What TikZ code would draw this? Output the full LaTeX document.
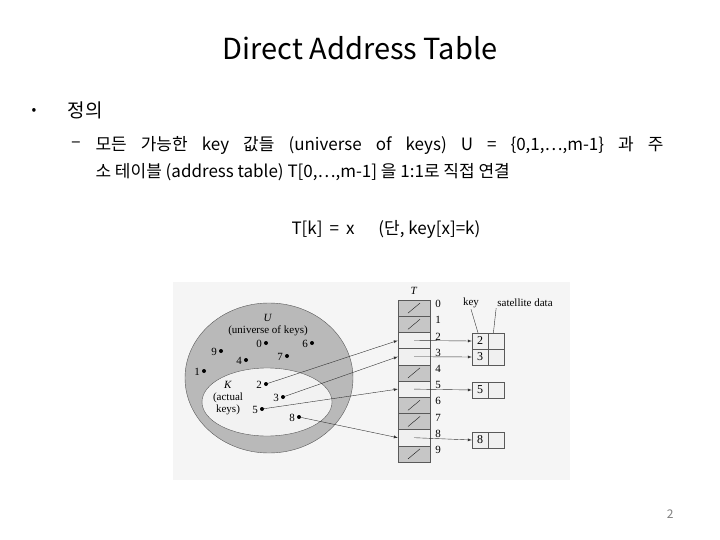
\documentclass[tikz,border=0pt]{standalone}
\usepackage{fontspec}
\setmainfont{Noto Sans CJK KR}
\newfontfamily\figfont{Liberation Serif}
\begin{document}
\begin{tikzpicture}[x=1pt,y=-1pt,
  dotp/.style={circle,fill=black,inner sep=0pt,minimum size=4pt},
  lab/.style={font=\figfont\fontsize{11}{12}\selectfont,inner sep=1pt},
  full/.style={draw=gray!70!black,fill=gray!45,minimum width=32pt,minimum height=16.2pt,inner sep=0pt},
  used/.style={draw=gray!70!black,fill=gray!12,minimum width=32pt,minimum height=16.2pt,inner sep=0pt},
  kbox/.style={draw=gray!70!black,fill=gray!12,minimum width=16pt,minimum height=16pt,inner sep=0pt,font=\figfont\fontsize{12}{13}\selectfont},
  arr/.style={-latex,gray!40!black,thin}]
\useasboundingbox (0,0) rectangle (720,540);
\fill[white] (0,0) rectangle (720,540);
\node (title) at (360,48) {\fontsize{29}{34}\selectfont Direct Address Table};
\node (bul) at (34,111) {\fontsize{14}{16}\selectfont •};
\node[anchor=west] (def) at (64,110) {\fontsize{19}{22}\selectfont 정의};
\node[anchor=west] (dash) at (68,145) {\fontsize{18}{20}\selectfont –};
\node[anchor=west] (l1) at (92,145) {\fontsize{17}{20}\selectfont\makebox[568pt][s]{모든 가능한 key 값들 (universe of keys) U = \{0,1,…,m-1\} 과 주}};
\node[anchor=west] (l2) at (92,172) {\fontsize{17}{20}\selectfont 소 테이블 (address table) T[0,…,m-1] 을 1:1로 직접 연결};
\node[anchor=west] (eq) at (288,229) {\fontsize{17}{20}\selectfont T[k]\hspace{7pt}=\hspace{7pt}x\hspace{24pt}(단, key[x]=k)};
\node[anchor=east] (pg) at (677,514) {\fontsize{12}{14}\selectfont\color{gray}2};
% figure background
\fill[gray!8] (173,282) rectangle (570,480);
\draw[gray!70!black,fill=gray!55] (269,378) ellipse [x radius=84,y radius=75];
\draw[gray!70!black,fill=gray!10] (267,402) ellipse [x radius=65,y radius=34];
\node[lab,align=center] (Ul) at (268,325) {\textit{U}\\(universe of keys)};
\node[lab,align=center] (Kl) at (228,398) {\textit{K}\\(actual\\keys)};
\foreach \n/\x/\y in {0/266/343,9/221/351,4/246/360,7/287/356,6/312/343,1/204/371,2/266/384,3/283/397,5/262/409,8/299/417}{
  \node[dotp] (p\n) at (\x,\y) {};
  \node[lab,anchor=east] at (\x-3,\y+1) {\n};
}
\node[lab] (Tl) at (414,291) {\textit{T}};
\foreach \i in {0,...,9}{
  \pgfmathsetmacro\yy{308.1+16.2*\i}
  \node[lab] at (438,\yy-4) {\i};
}
\foreach \i in {0,1,4,6,7,9}{
  \pgfmathsetmacro\yy{308.1+16.2*\i}
  \node[full] (t\i) at (414,\yy) {};
  \draw[gray!20!black] (408,\yy+5) -- (420,\yy-5);
}
\foreach \i in {2,3,5,8}{
  \pgfmathsetmacro\yy{308.1+16.2*\i}
  \node[used] (t\i) at (414,\yy) {};
}
\foreach \i/\yy in {2/341,3/357,5/390,8/440}{
  \node[kbox] (k\i) at (480,\yy) {\i};
  \node[kbox,anchor=west] (s\i) at (k\i.east) {};
  \draw[arr] (t\i.center) -- (k\i.west);
  \draw[arr] (p\i) -- (t\i.west);
}
\node[lab] (keyl) at (471,303) {key};
\node[lab] (satl) at (525,303) {satellite data};
\draw[gray!40!black] (keyl.south) -- ([xshift=-2pt]k2.north);
\draw[gray!40!black] (satl.south west) -- ([xshift=-3pt]s2.north);
\end{tikzpicture}
\end{document}
